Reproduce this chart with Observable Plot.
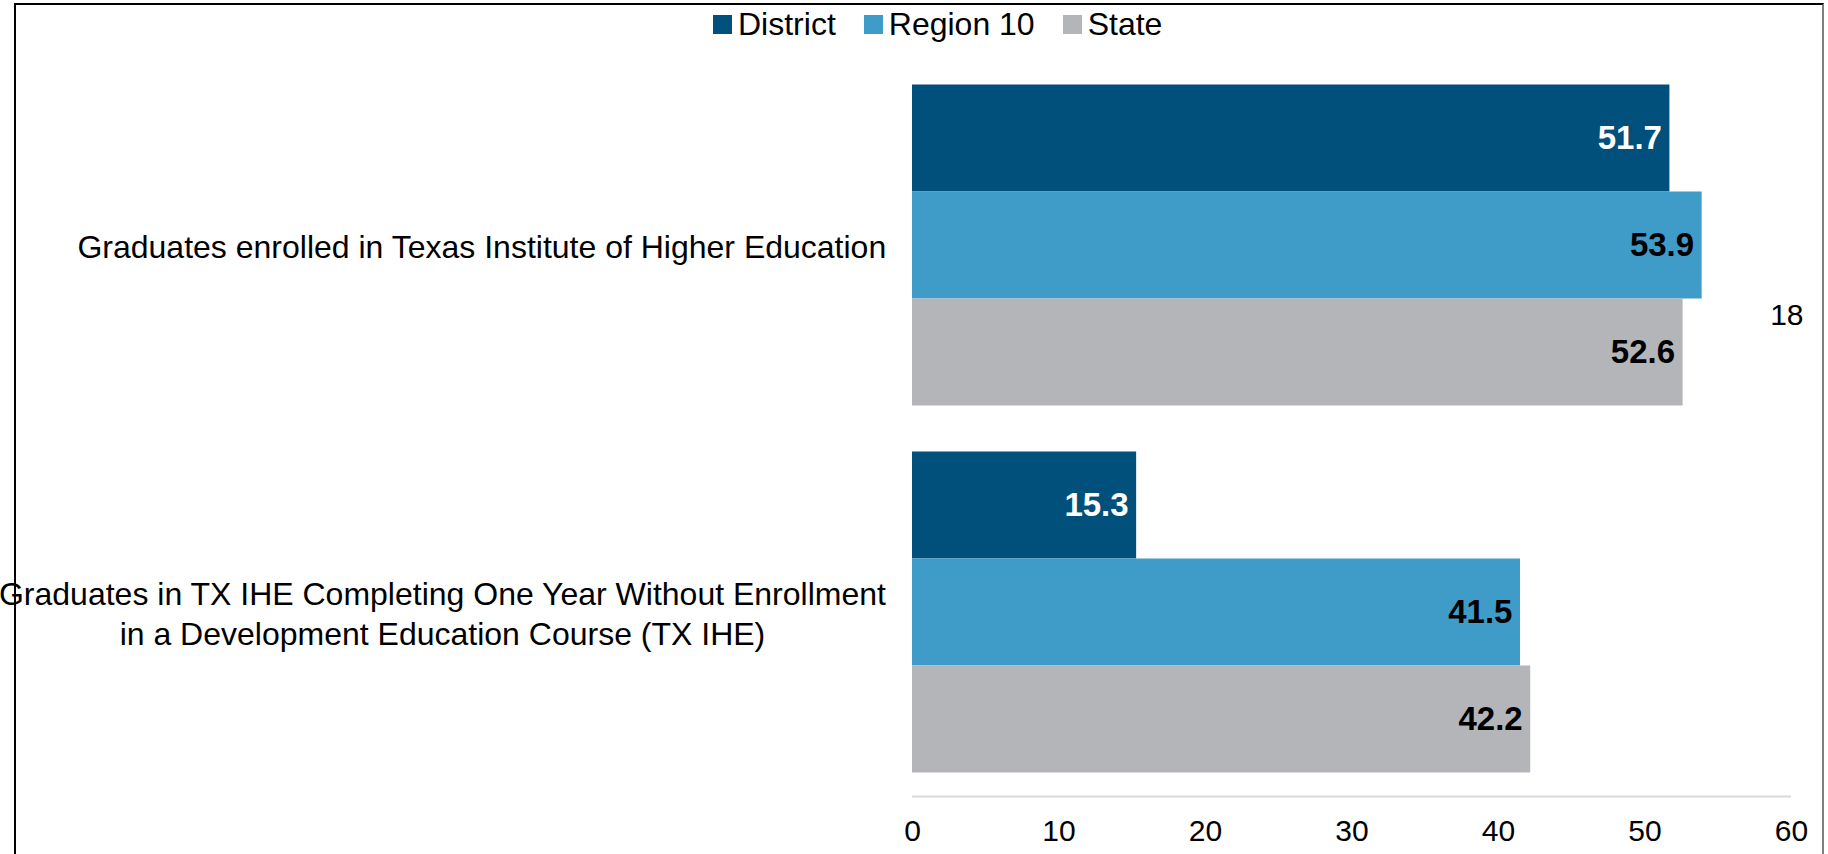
<!DOCTYPE html>
<html>
<head>
<meta charset="utf-8">
<script src="https://cdn.jsdelivr.net/npm/d3@7"></script>
<script src="https://cdn.jsdelivr.net/npm/@observablehq/plot@0.6"></script>
<style>
  body { margin: 0; background: #fff; }
  #wrap { position: relative; width: 1828px; height: 854px; overflow: hidden; font-family: "Liberation Sans", Arial, sans-serif; }
  #chart { position: absolute; left: 0; top: 0; }
  #frame { position: absolute; left: 14px; top: 3px; width: 1810px; height: 900px; border-top: 2px solid #000; border-left: 2px solid #000; border-right: 2px solid #808080; box-sizing: border-box; pointer-events: none; }
  #legend { position: absolute; top: 5px; left: 713px; height: 38px; display: flex; align-items: center; font-size: 32px; color: #000; white-space: nowrap; }
  .item { display: flex; align-items: center; margin-right: 28px; }
  .sw { width: 19px; height: 19px; margin-right: 6px; }
</style>
</head>
<body>
<div id="wrap">
  <div id="chart"></div>
  <div id="legend"></div>
  <div id="frame"></div>
</div>
<script>
// ---- data ----
const categories = [
  "Graduates enrolled in Texas Institute of Higher Education",
  "Graduates in TX IHE Completing One Year Without Enrollment in a Development Education Course (TX IHE)"
];
const categoryLines = [
  ["Graduates enrolled in Texas Institute of Higher Education"],
  ["Graduates in TX IHE Completing One Year Without Enrollment", "in a Development Education Course (TX IHE)"]
];
const series = ["District", "Region 10", "State"];
const district = [51.7, 15.3];
const region10 = [53.9, 41.5];
const state = [52.6, 42.2];
const colors = ["#014f7b", "#3f9bc7", "#b4b5b9"];
const xTicks = [0, 10, 20, 30, 40, 50, 60];
const extraLabels = [{category: categories[0], text: "18"}];

// ---- build table ----
const seriesValues = [district, region10, state];
const rows = [];
categories.forEach((c, i) => {
  series.forEach((s, j) => rows.push({category: c, series: s, value: seriesValues[j][i]}));
});

const W = 1828, H = 854;
const mTop = 61.5, mBottom = 57.5, mLeft = 912, mRight = 37;
const FONT = "Liberation Sans, Arial, sans-serif";
const LABEL_SIZE = 32;

// measure label widths
const ctx = document.createElement("canvas").getContext("2d");
ctx.font = LABEL_SIZE + "px 'Liberation Sans', Arial, sans-serif";

const labelMarks = categories.map((c, i) => {
  const lines = categoryLines[i];
  const maxW = Math.max(...lines.map(l => ctx.measureText(l).width));
  return Plot.text([c], {
    fy: d => d,
    text: () => lines.join("\n"),
    frameAnchor: "left",
    textAnchor: "middle",
    dx: -(26 + maxW / 2),
    lineHeight: 1.24,
    fontSize: LABEL_SIZE,
    fill: "#000"
  });
});

const lastCategory = categories[categories.length - 1];

const plot = Plot.plot({
  width: W,
  height: H,
  marginTop: mTop,
  marginBottom: mBottom,
  marginLeft: mLeft,
  marginRight: mRight,
  style: {fontFamily: FONT, fontSize: "32px", background: "transparent", overflow: "visible"},
  x: {domain: [0, 60], axis: null, label: null},
  y: {domain: series, padding: 0, axis: null},
  fy: {domain: categories, paddingInner: 0.122, paddingOuter: 0.061, axis: null, label: null},
  color: {domain: series, range: colors},
  marks: [
    Plot.barX(rows, {fy: "category", y: "series", x: "value", fill: "series"}),
    Plot.text(rows, {
      filter: d => d.series === "District",
      fy: "category", y: "series", x: "value",
      text: d => d.value.toFixed(1),
      textAnchor: "end", dx: -8, fill: "#fff", fontWeight: "bold", fontSize: 33
    }),
    Plot.text(rows, {
      filter: d => d.series !== "District",
      fy: "category", y: "series", x: "value",
      text: d => d.value.toFixed(1),
      textAnchor: "end", dx: -8, fill: "#000", fontWeight: "bold", fontSize: 33
    }),
    ...labelMarks,
    Plot.text(extraLabels, {
      fy: "category", text: "text",
      frameAnchor: "right", textAnchor: "end", dx: 12, dy: 70, fontSize: 30, fill: "#000"
    }),
    // x-axis tick labels, positioned by the x scale, below the bottom facet
    Plot.text(xTicks, {
      x: d => d, fy: () => lastCategory,
      text: d => String(d),
      frameAnchor: "bottom", lineAnchor: "middle", textAnchor: "middle", dy: 58, fontSize: 30, fill: "#000"
    })
  ]
});

// baseline gridline along the bottom of the plot area, via the x scale
const xs = plot.scale("x");
d3.select(plot).append("line")
  .attr("x1", xs.apply(0)).attr("x2", xs.apply(60))
  .attr("y1", H - mBottom).attr("y2", H - mBottom)
  .attr("stroke", "#d9d9d9").attr("stroke-width", 2);

document.getElementById("chart").appendChild(plot);

// legend
const legend = document.getElementById("legend");
series.forEach((s, i) => {
  const item = document.createElement("div");
  item.className = "item";
  const sw = document.createElement("span");
  sw.className = "sw";
  sw.style.background = colors[i];
  const t = document.createElement("span");
  t.textContent = s;
  item.appendChild(sw);
  item.appendChild(t);
  legend.appendChild(item);
});
</script>
</body>
</html>
